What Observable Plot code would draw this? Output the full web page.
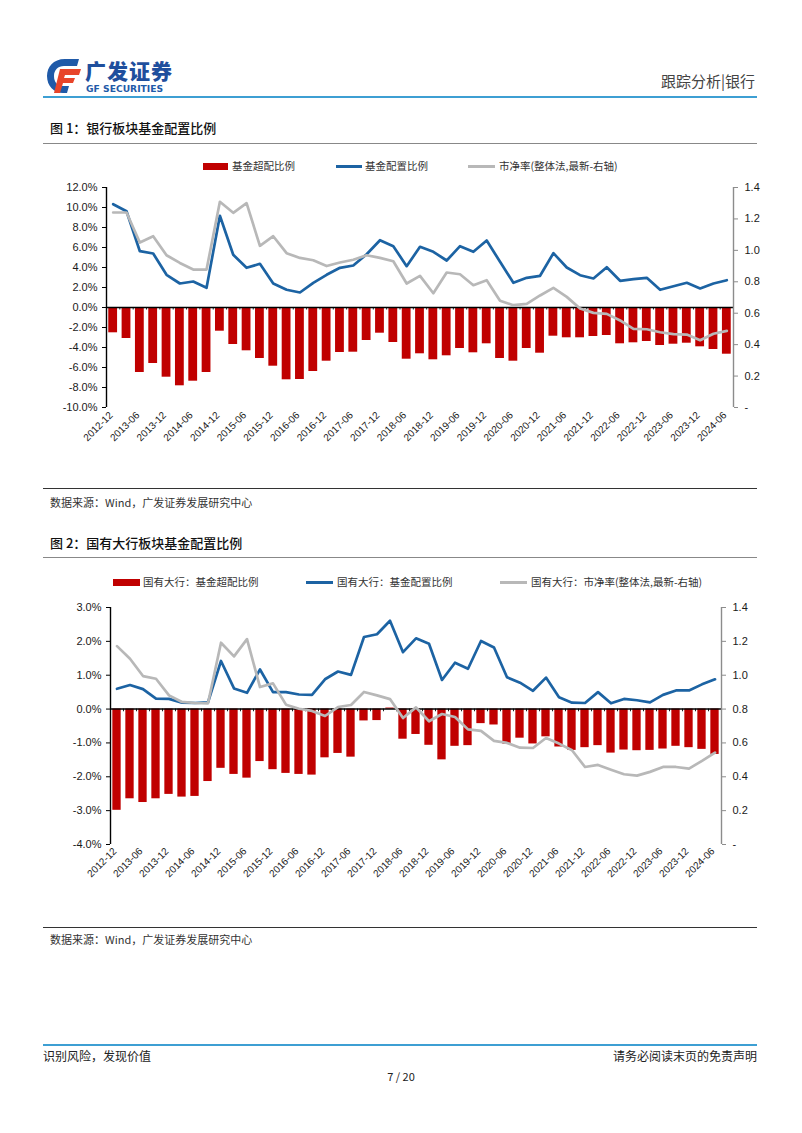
<!DOCTYPE html>
<html>
<head>
<meta charset="utf-8">
<script src="https://cdn.jsdelivr.net/npm/d3@7"></script>
<script src="https://cdn.jsdelivr.net/npm/@observablehq/plot@0.6"></script>
<style>
  html, body { margin: 0; padding: 0; background: #fff; }
  body { width: 802px; height: 1133px; position: relative; overflow: hidden; font-family: "Noto Sans CJK SC", "Noto Sans", sans-serif; color: #222; }
  .abs { position: absolute; }
  .rule { position: absolute; left: 43px; width: 714px; }
  .title { position: absolute; left: 50px; font-size: 13px; font-weight: 500; color: #111; line-height: 16px; }
  .src { position: absolute; left: 50px; font-size: 11px; color: #333; line-height: 14px; }
  .leg { position: absolute; font-size: 10.5px; color: #333; line-height: 12px; white-space: nowrap; }
  .sw-bar { position: absolute; height: 7px; background: #c00000; }
  .sw-line { position: absolute; height: 3px; }
  .chart { position: absolute; left: 0; }
</style>
</head>
<body>
<script>
// ---------------- DATA ----------------
const quarters = [
  "2012-12","2013-03","2013-06","2013-09","2013-12","2014-03","2014-06","2014-09","2014-12",
  "2015-03","2015-06","2015-09","2015-12","2016-03","2016-06","2016-09","2016-12",
  "2017-03","2017-06","2017-09","2017-12","2018-03","2018-06","2018-09","2018-12",
  "2019-03","2019-06","2019-09","2019-12","2020-03","2020-06","2020-09","2020-12",
  "2021-03","2021-06","2021-09","2021-12","2022-03","2022-06","2022-09","2022-12",
  "2023-03","2023-06","2023-09","2023-12","2024-03","2024-06"
];
// Fig 1: bank sector
const bankOverweight = [
  -2.53,-3.10,-6.50,-5.60,-6.97,-7.83,-7.37,-6.50,-2.37,-3.70,-4.33,-5.10,-5.87,-7.23,-7.20,-6.40,
  -5.37,-4.50,-4.47,-3.30,-2.57,-3.50,-5.17,-4.63,-5.23,-4.83,-4.10,-4.53,-3.63,-5.10,-5.37,-4.10,
  -4.57,-2.87,-3.03,-3.03,-2.90,-2.80,-3.63,-3.53,-3.40,-3.80,-3.67,-3.57,-3.93,-4.20,-4.67
];
const bankShare = [
  10.33,9.63,5.63,5.40,3.27,2.40,2.60,1.97,9.17,5.27,3.97,4.37,2.40,1.77,1.50,2.47,
  3.27,3.97,4.20,5.33,6.73,6.13,4.13,6.07,5.57,4.70,6.13,5.57,6.70,4.57,2.47,2.97,
  3.17,5.43,4.00,3.23,2.90,4.03,2.67,2.83,2.97,1.77,2.13,2.47,1.90,2.40,2.73
];
const bankPB = [
  1.241,1.241,1.050,1.090,0.969,0.920,0.878,0.878,1.309,1.239,1.300,1.029,1.090,0.982,0.952,0.937,
  0.900,0.923,0.940,0.969,0.952,0.931,0.789,0.838,0.727,0.859,0.848,0.778,0.810,0.679,0.651,0.660,
  0.713,0.761,0.704,0.630,0.602,0.596,0.554,0.500,0.498,0.479,0.467,0.464,0.428,0.469,0.488
];
// Fig 2: large state-owned banks
const bigOverweight = [
  -2.99,-2.65,-2.76,-2.65,-2.52,-2.60,-2.58,-2.14,-1.75,-1.93,-2.04,-1.55,-1.79,-1.90,-1.93,-1.95,
  -1.44,-1.31,-1.42,-0.35,-0.34,0.03,-0.89,-0.75,-1.07,-1.50,-1.10,-1.08,-0.43,-0.47,-1.04,-0.86,
  -1.03,-0.82,-1.12,-1.22,-1.14,-1.08,-1.30,-1.21,-1.23,-1.22,-1.18,-1.10,-1.14,-1.19,-1.34
];
const bigShare = [
  0.60,0.71,0.59,0.31,0.30,0.19,0.18,0.20,1.42,0.61,0.48,1.17,0.50,0.50,0.43,0.42,
  0.88,1.11,1.01,2.13,2.21,2.61,1.68,2.09,1.93,0.86,1.37,1.19,2.01,1.82,0.94,0.78,
  0.54,0.93,0.35,0.19,0.18,0.50,0.17,0.30,0.26,0.20,0.42,0.55,0.55,0.73,0.88
];
const bigPB = [
  1.172,1.097,0.995,0.979,0.881,0.842,0.836,0.834,1.192,1.111,1.213,0.930,0.952,0.826,0.802,0.789,
  0.759,0.812,0.824,0.901,0.881,0.859,0.747,0.810,0.728,0.771,0.753,0.680,0.671,0.612,0.600,0.572,
  0.570,0.629,0.596,0.557,0.458,0.470,0.442,0.415,0.407,0.429,0.458,0.458,0.448,0.494,0.543
];
// Axis ticks
const leftTicks1 = [-10, -8, -6, -4, -2, 0, 2, 4, 6, 8, 10, 12];
const leftTicks2 = [-4, -3, -2, -1, 0, 1, 2, 3];
const rightTicks = [0, 0.2, 0.4, 0.6, 0.8, 1.0, 1.2, 1.4];
const xLabels = quarters.filter(q => q.endsWith("-06") || q.endsWith("-12"));

// ---------------- STYLE ----------------
const RED = "#c00000", BLUE = "#1c63a3", GRAY = "#b8b8b8";

// ---------------- PAGE ----------------
function el(tag, cls, style, text) {
  const e = document.createElement(tag);
  if (cls) e.className = cls;
  Object.assign(e.style, style || {});
  if (text != null) e.textContent = text;
  document.body.appendChild(e);
  return e;
}

// Header logo
const logo = el("div", "abs", {left: "45px", top: "56px", width: "130px", height: "40px"});
logo.innerHTML = `
<svg width="130" height="40" viewBox="0 0 130 40">
  <path d="M20 3 C8 3 2 11 2 20 C2 30 9 37 18 37 L22 37 L24 30 L18 30 C12 30 9 26 9 20 C9 14 13 10 19 10 L32 10 L34 3 Z" fill="#1f5aa8"/>
  <path d="M15 13 L36 13 L34 19 L20 19 L19 22 L30 22 L28 27 L18 27 L15 37 L9 37 Z" fill="#e8452a"/>
  <text x="40" y="23" font-family="Noto Sans CJK SC" font-weight="900" font-size="21" fill="#1f4f9d" letter-spacing="1">广发证券</text>
  <text x="41" y="36" font-family="'DejaVu Sans', sans-serif" font-weight="bold" font-size="9.2" fill="#1f5aa8">GF SECURITIES</text>
</svg>`;
el("div", "abs", {right: "47px", top: "71px", fontSize: "15px", color: "#444", lineHeight: "20px"}, "跟踪分析|银行");
el("div", "rule", {top: "96px", height: "2px", background: "#3d9fd3"});

// Titles and rules
el("div", "title", {top: "120px"}, "图 1：银行板块基金配置比例");
el("div", "rule", {top: "143px", height: "1px", background: "#888"});
el("div", "rule", {top: "488px", height: "1px", background: "#333"});
el("div", "src", {top: "495px"}, "数据来源：Wind，广发证券发展研究中心");

el("div", "title", {top: "535px"}, "图 2：国有大行板块基金配置比例");
el("div", "rule", {top: "557px", height: "1px", background: "#888"});
el("div", "rule", {top: "927px", height: "1px", background: "#333"});
el("div", "src", {top: "932px"}, "数据来源：Wind，广发证券发展研究中心");

// Footer
el("div", "rule", {top: "1044px", height: "2px", background: "#3d9fd3"});
el("div", "abs", {left: "43px", top: "1048px", fontSize: "12px", color: "#222", lineHeight: "16px"}, "识别风险，发现价值");
el("div", "abs", {right: "45px", top: "1048px", fontSize: "12px", color: "#222", lineHeight: "16px"}, "请务必阅读末页的免责声明");
el("div", "abs", {left: "0", width: "802px", textAlign: "center", top: "1069px", fontSize: "11px", color: "#222", lineHeight: "14px"}, "7 / 20");

// Legends
function legend(y, items) {
  items.forEach(it => {
    if (it.type === "bar") el("div", "sw-bar", {left: it.x + "px", top: (y - 3.5) + "px", width: it.w + "px"});
    else el("div", "sw-line", {left: it.x + "px", top: (y - 1.5) + "px", width: it.w + "px", background: it.color});
    el("div", "leg", {left: it.tx + "px", top: (y - 6.5) + "px"}, it.label);
  });
}
legend(166, [
  {type: "bar", x: 203, w: 25, tx: 232, label: "基金超配比例"},
  {type: "line", x: 336, w: 26, color: BLUE, tx: 365, label: "基金配置比例"},
  {type: "line", x: 468, w: 27, color: GRAY, tx: 499, label: "市净率(整体法,最新-右轴)"}
]);
legend(582, [
  {type: "bar", x: 113, w: 27, tx: 143, label: "国有大行：基金超配比例"},
  {type: "line", x: 306, w: 27, color: BLUE, tx: 337, label: "国有大行：基金配置比例"},
  {type: "line", x: 500, w: 27, color: GRAY, tx: 531, label: "国有大行：市净率(整体法,最新-右轴)"}
]);

// Charts
function makeChart(o) {
  const [y0, y1] = o.yDomain;
  const toY = v => y0 + v / o.pbMax * (y1 - y0);
  const fromY = d => (d - y0) / (y1 - y0) * o.pbMax;
  const n = quarters.length;
  const data = quarters.map((q, i) => ({i, q, over: o.over[i], share: o.share[i], pb: o.pb[i]}));
  const bounds = d3.range(n + 1).map(i => i - 0.5);
  const labelIdx = xLabels.map(q => quarters.indexOf(q));
  return Plot.plot({
    width: 802,
    height: o.height,
    marginTop: o.marginTop,
    marginBottom: o.marginBottom,
    marginLeft: o.marginLeft,
    marginRight: o.marginRight,
    style: {fontFamily: "'Liberation Sans', Arial, sans-serif", fontSize: "11px", color: "#1a1a1a", background: "transparent", overflow: "visible"},
    x: {type: "linear", domain: [-0.5, n - 0.5], label: null},
    y: {domain: o.yDomain, label: null},
    marks: [
      Plot.rect(data, {x1: d => d.i - o.half, x2: d => d.i + o.half, y1: 0, y2: "over", fill: RED}),
      Plot.ruleX(bounds, {x: d => d, y1: 0, y2: -o.tickLen, stroke: "#222", strokeWidth: 1}),
      Plot.ruleY([0], {stroke: "#000", strokeWidth: 1.4}),
      Plot.lineY(data, {x: "i", y: "share", stroke: BLUE, strokeWidth: 2.7, strokeLinejoin: "round"}),
      Plot.lineY(data, {x: "i", y: d => toY(d.pb), stroke: GRAY, strokeWidth: 2.7, strokeLinejoin: "round"}),
      Plot.ruleX([-0.5], {stroke: "#000", strokeWidth: 1.4}),
      Plot.ruleX([n - 0.5], {stroke: "#8c8c8c", strokeWidth: 1.4}),
      Plot.axisY({ticks: o.yTicks, anchor: "left", tickSize: 4, tickPadding: 5, label: null, stroke: "#000",
        tickFormat: d => d.toFixed(1) + "%", fontSize: 11}),
      Plot.axisY({ticks: rightTicks.map(toY), anchor: "right", tickSize: 4, tickPadding: 7, label: null, stroke: "#8c8c8c",
        tickFormat: d => { const v = fromY(d); return v < 0.01 ? "-" : v.toFixed(1); }, fontSize: 11}),
      Plot.axisX({ticks: labelIdx, anchor: "bottom", tickSize: 0, tickPadding: o.xPad, tickRotate: -45, label: null,
        tickFormat: i => quarters[i], fontSize: 10, dx: o.xDx})
    ]
  });
}

const c1 = makeChart({
  over: bankOverweight, share: bankShare, pb: bankPB,
  yDomain: [-10, 12], yTicks: leftTicks1, pbMax: 1.4,
  height: 290, marginTop: 12, marginBottom: 58, marginLeft: 106, marginRight: 69,
  half: 0.33, tickLen: 0.25, xPad: 6, xDx: -2
});
c1.classList.add("chart");
c1.style.top = "175px";
document.body.appendChild(c1);

const c2 = makeChart({
  over: bigOverweight, share: bigShare, pb: bigPB,
  yDomain: [-4, 3], yTicks: leftTicks2, pbMax: 1.4,
  height: 300, marginTop: 12, marginBottom: 51, marginLeft: 110, marginRight: 81,
  half: 0.32, tickLen: 0.08, xPad: 5, xDx: -2
});
c2.classList.add("chart");
c2.style.top = "595px";
document.body.appendChild(c2);
</script>
</body>
</html>
